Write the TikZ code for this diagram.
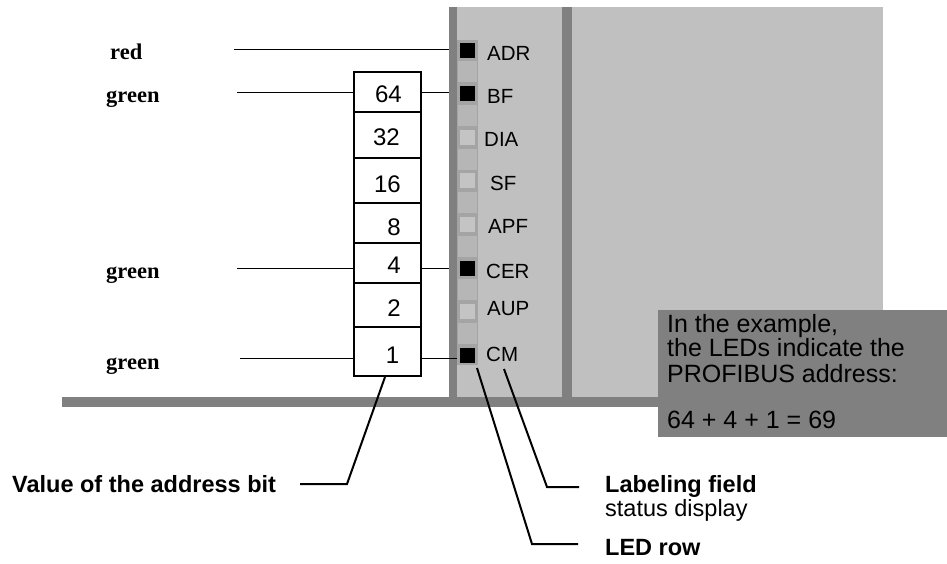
\documentclass[tikz,border=0pt]{standalone}
\usepackage{fontspec}
\setmainfont{Liberation Sans}
\newfontfamily\serifbf{Liberation Serif}[BoldFont={Liberation Serif Bold}]
\usetikzlibrary{calc}
\definecolor{panelc}{HTML}{C0C0C0}
\definecolor{barc}{HTML}{808080}
\definecolor{stripc}{HTML}{A4A4A4}
\definecolor{cellc}{HTML}{B6B6B6}
\definecolor{ledoff}{HTML}{C4C4C4}
\newcommand\myfs[1]{\fontsize{#1}{#1}\selectfont}
\begin{document}
\begin{tikzpicture}[x=1pt,y=-1pt,
  lead/.style={line width=1pt},
  leadb/.style={line width=2pt},
  numbox/.style={draw, line width=2pt, minimum width=67pt, inner sep=0pt},
  numtxt/.style={anchor=base east, inner sep=0pt, font=\myfs{24}},
  ledsq/.style={minimum width=15pt, minimum height=15pt, inner sep=0pt},
  gapcell/.style={fill=cellc, minimum width=19pt, minimum height=21pt, inner sep=0pt},
  ledlbl/.style={anchor=west, inner sep=0pt, font=\myfs{20.5}},
  colorlbl/.style={anchor=base west, inner sep=0pt, font=\serifbf\bfseries\myfs{22.5}},
  bottomlbl/.style={anchor=base west, inner sep=0pt, font=\bfseries\myfs{23.5}},
  boxtxt/.style={anchor=base west, inner sep=0pt, font=\myfs{25}}]
\useasboundingbox (0,0) rectangle (947,563);
% panel and bars
\node[fill=panelc, inner sep=0pt, minimum width=434pt, minimum height=390pt, anchor=north west] (panel) at (449,7) {};
\node[fill=barc, inner sep=0pt, minimum width=8pt, minimum height=390pt, anchor=north west] (lbar) at (449,7) {};
\node[fill=barc, inner sep=0pt, minimum width=10pt, minimum height=390pt, anchor=north west] (mbar) at (562,7) {};
\node[fill=barc, inner sep=0pt, minimum width=885pt, minimum height=10pt, anchor=north west] (hbar) at (62,397) {};
% LED strip
\node[fill=stripc, inner sep=0pt, minimum width=21pt, minimum height=325pt, anchor=north west] (strip) at (457,40) {};
\foreach \i/\st in {1/black,2/black,3/ledoff,4/ledoff,5/ledoff,6/black,7/ledoff,8/black}{
  \node[ledsq, fill=\st] (l\i) at (467.5,{50+43.6*(\i-1)}) {};
}
\foreach \i in {1,...,7}{
  \node[gapcell] (g\i) at (467.5,{71.8+43.6*(\i-1)}) {};
}
% LED labels
\node[ledlbl] (tADR) at (487,53) {ADR};
\node[ledlbl] (tBF) at (487,96) {BF};
\node[ledlbl] (tDIA) at (484,139.5) {DIA};
\node[ledlbl] (tSF) at (490,183) {SF};
\node[ledlbl] (tAPF) at (488,226) {APF};
\node[ledlbl] (tCER) at (486,271) {CER};
\node[ledlbl] (tAUP) at (487,309) {AUP};
\node[ledlbl] (tCM) at (486,354.5) {CM};
% number boxes
\node[numbox, minimum height=40pt] (b64) at (387.5,92) {};
\node[numbox, minimum height=46pt] (b32) at (387.5,135) {};
\node[numbox, minimum height=45pt] (b16) at (387.5,180.5) {};
\node[numbox, minimum height=40pt] (b8) at (387.5,223) {};
\node[numbox, minimum height=40pt] (b4) at (387.5,263) {};
\node[numbox, minimum height=44pt] (b2) at (387.5,305) {};
\node[numbox, minimum height=49pt] (b1) at (387.5,351.5) {};
\node[numtxt] (n64) at (402,102.7) {64};
\node[numtxt] (n32) at (400,145) {32};
\node[numtxt] (n16) at (401,192) {16};
\node[numtxt] (n8) at (401,235) {8};
\node[numtxt] (n4) at (401,273.3) {4};
\node[numtxt] (n2) at (401,316.7) {2};
\node[numtxt] (n1) at (399.5,363.3) {1};
% colour labels
\node[colorlbl] (cred) at (110,59) {red};
\node[colorlbl] (cg1) at (106,102) {green};
\node[colorlbl] (cg2) at (106,278) {green};
\node[colorlbl] (cg3) at (106,369) {green};
% leader lines from colour labels
\coordinate (c1) at (234,49);
\coordinate (c2) at (237,92);
\coordinate (c3) at (237,268);
\coordinate (c4) at (240,358);
\draw[lead] (c1) -- (c1 -| lbar.west);
\draw[lead] (c2) -- (c2 -| b64.west);
\draw[lead] (b64.east |- c2) -- (c2 -| lbar.west);
\draw[lead] (c3) -- (c3 -| b4.west);
\draw[lead] (b4.east |- c3) -- (c3 -| lbar.west);
\draw[lead] (c4) -- (c4 -| b1.west);
\draw[lead] (b1.east |- c4) -- (c4 -| strip.west);
% bottom labels
\node[bottomlbl] (val) at (12,492) {Value of the address bit};
\node[bottomlbl] (lab) at (605,492) {Labeling field};
\node[anchor=base west, inner sep=0pt, font=\myfs{23.5}] (stat) at (605,516) {status display};
\node[bottomlbl] (ledrow) at (605,555) {LED row};
\coordinate (v0) at (300,484);
\coordinate (v1) at (347,484);
\draw[leadb] (v0) -- (v1) -- ([xshift=-2.5pt]b1.south);
\coordinate (f0) at (579,487);
\coordinate (f1) at (547,487);
\coordinate (f2) at (504,369);
\draw[leadb] (f0) -- (f1) -- (f2);
\coordinate (r0) at (578,544);
\coordinate (r1) at (532,544);
\coordinate (r2) at (477,368);
\draw[leadb] (r0) -- (r1) -- (r2);
% example box
\node[fill=barc, inner sep=0pt, minimum width=289pt, minimum height=127pt, anchor=north west] (exbox) at (658,310) {};
\node[boxtxt] (ex1) at (667,332) {In the example,};
\node[boxtxt] (ex2) at (667,356) {the LEDs indicate the};
\node[boxtxt] (ex3) at (667,382) {PROFIBUS address:};
\node[boxtxt] (ex4) at (667,428) {64 + 4 + 1 = 69};
\end{tikzpicture}
\end{document}
